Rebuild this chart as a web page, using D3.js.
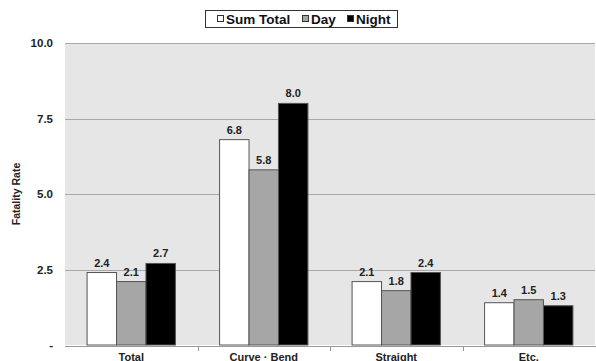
<!DOCTYPE html>
<html>
<head>
<meta charset="utf-8">
<script src="https://cdn.jsdelivr.net/npm/d3@7"></script>
<style>
  body { margin: 0; background: #fff; }
  text { font-family: "Liberation Sans", Arial, sans-serif; font-weight: bold; }
</style>
</head>
<body>
<div id="chart"></div>
<script>
//// data
var categories = ["Total", "Curve · Bend", "Straight", "Etc."];
var seriesNames = ["Sum Total", "Day", "Night"];
var sumTotal = [2.4, 6.8, 2.1, 1.4];
var day = [2.1, 5.8, 1.8, 1.5];
var night = [2.7, 8.0, 2.4, 1.3];
var yTicks = [0, 2.5, 5, 7.5, 10];
var colors = ["#ffffff", "#a6a6a6", "#000000"];

var series = [sumTotal, day, night];

var width = 596, height = 361;
var margin = {top: 43, right: 1, bottom: 16, left: 65};

var svg = d3.select("#chart").append("svg")
    .attr("width", width)
    .attr("height", height);

var x = d3.scaleBand()
    .domain(categories)
    .range([margin.left, width - margin.right]);

var x1 = d3.scaleBand()
    .domain(seriesNames)
    .range([0, x.bandwidth()])
    .paddingOuter(0.75)
    .paddingInner(0);

var y = d3.scaleLinear()
    .domain([0, 10])
    .range([height - margin.bottom, margin.top]);

//// plot background
svg.append("rect")
    .attr("x", margin.left)
    .attr("y", margin.top)
    .attr("width", width - margin.right - margin.left)
    .attr("height", y(0) - margin.top)
    .attr("fill", "#e6e6e6");

//// gridlines
svg.append("g")
    .selectAll("line")
    .data(yTicks.filter(d => d > 0))
    .enter().append("line")
    .attr("x1", margin.left)
    .attr("x2", width - margin.right)
    .attr("y1", d => Math.round(y(d)) + 0.5)
    .attr("y2", d => Math.round(y(d)) + 0.5)
    .attr("stroke", "#a8a8a8")
    .attr("stroke-width", 1);

//// y tick labels
svg.append("g")
    .selectAll("text")
    .data(yTicks)
    .enter().append("text")
    .attr("x", 53)
    .attr("y", d => y(d) + 4)
    .attr("text-anchor", "end")
    .attr("font-size", "11.5px")
    .attr("fill", "#222")
    .text(d => d === 0 ? "-" : d3.format(".1f")(d));

//// y title
svg.append("text")
    .attr("transform", "translate(20," + 194 + ") rotate(-90)")
    .attr("text-anchor", "middle")
    .attr("font-size", "10.5px")
    .attr("fill", "#222")
    .text("Fatality Rate");

//// bars
var groups = svg.append("g")
    .selectAll("g")
    .data(categories)
    .enter().append("g")
    .attr("transform", d => "translate(" + x(d) + ",0)");

groups.selectAll("rect")
    .data((c, i) => seriesNames.map((s, j) => ({s: s, v: series[j][i], j: j})))
    .enter().append("rect")
    .attr("x", d => x1(d.s))
    .attr("y", d => y(d.v))
    .attr("width", x1.bandwidth())
    .attr("height", d => y(0) - y(d.v))
    .attr("fill", d => colors[d.j])
    .attr("stroke", "#555")
    .attr("stroke-width", 1);

groups.selectAll("text")
    .data((c, i) => seriesNames.map((s, j) => ({s: s, v: series[j][i], j: j})))
    .enter().append("text")
    .attr("x", d => x1(d.s) + x1.bandwidth() / 2)
    .attr("y", d => y(d.v) - 6)
    .attr("text-anchor", "middle")
    .attr("font-size", "11px")
    .attr("fill", "#222")
    .text(d => d3.format(".1f")(d.v));

//// x axis
var xAxis = svg.append("g")
    .attr("transform", "translate(0," + (y(0) + 1) + ")");

xAxis.append("line")
    .attr("x1", margin.left)
    .attr("x2", width)
    .attr("y1", 0.5)
    .attr("y2", 0.5)
    .attr("stroke", "#999");

xAxis.selectAll(".tick")
    .data(categories.slice(1))
    .enter().append("line")
    .attr("x1", d => Math.round(x(d)) + 0.5)
    .attr("x2", d => Math.round(x(d)) + 0.5)
    .attr("y1", 0)
    .attr("y2", 5)
    .attr("stroke", "#999");

xAxis.selectAll("text")
    .data(categories)
    .enter().append("text")
    .attr("x", d => x(d) + x.bandwidth() / 2)
    .attr("y", 14.5)
    .attr("text-anchor", "middle")
    .attr("font-size", "11px")
    .attr("fill", "#222")
    .text(d => d);

//// legend
var legend = svg.append("g");
legend.append("rect")
    .attr("x", 205.5)
    .attr("y", 10.5)
    .attr("width", 192)
    .attr("height", 17)
    .attr("fill", "#fff")
    .attr("stroke", "#333");

var legendX = [226, 311, 356];
var items = legend.selectAll("g")
    .data(seriesNames)
    .enter().append("g")
    .attr("transform", (d, i) => "translate(" + legendX[i] + ",0)");

items.append("rect")
    .attr("x", -8.5)
    .attr("y", 15.5)
    .attr("width", 6)
    .attr("height", 6)
    .attr("fill", (d, i) => colors[i])
    .attr("stroke", "#333");

items.append("text")
    .attr("x", 0)
    .attr("y", 23.5)
    .attr("font-size", "13.5px")
    .attr("fill", "#111")
    .text(d => d);
</script>
</body>
</html>
